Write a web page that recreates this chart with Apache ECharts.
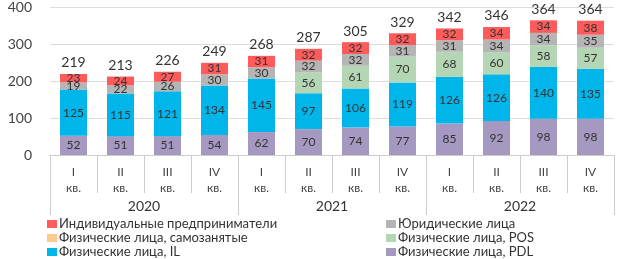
<!DOCTYPE html>
<html>
<head>
<meta charset="utf-8">
<script src="https://cdn.jsdelivr.net/npm/echarts@6/dist/echarts.min.js"></script>
<style>
  html, body { margin: 0; padding: 0; background: #fff; }
  #chart { width: 624px; height: 259px; }
</style>
</head>
<body>
<div id="chart"></div>
<script>
// quarters and years on the x axis
const quarters = ['I\nкв.', 'II\nкв.', 'III\nкв.', 'IV\nкв.', 'I\nкв.', 'II\nкв.', 'III\nкв.', 'IV\nкв.', 'I\nкв.', 'II\nкв.', 'III\nкв.', 'IV\nкв.'];
const years = ['2020', '2021', '2022'];

// stacked segments, bottom to top
const pdl = [52, 51, 51, 54, 62, 70, 74, 77, 85, 92, 98, 98];
const il = [125, 115, 121, 134, 145, 97, 106, 119, 126, 126, 140, 135];
const pos = [0, 0, 0, 0, 0, 56, 61, 70, 68, 60, 58, 57];
const selfEmployed = [0, 0, 0, 0, 0, 0, 0, 0, 0, 0, 0, 0];
const legalEntities = [19, 22, 26, 30, 30, 32, 32, 31, 31, 34, 34, 35];
const entrepreneurs = [23, 24, 27, 31, 31, 32, 32, 32, 32, 34, 34, 38];
const totals = [219, 213, 226, 249, 268, 287, 305, 329, 342, 346, 364, 364];

const names = {
    ip: 'Индивидуальные предприниматели',
    legal: 'Юридические лица',
    self: 'Физические лица, самозанятые',
    pos: 'Физические лица, POS',
    il: 'Физические лица, IL',
    pdl: 'Физические лица, PDL'
};

const font = 'Lato, "Open Sans", sans-serif';

function stackSeries(name, data, color) {
    return {
        name: name,
        type: 'bar',
        stack: 'all',
        barWidth: 27,
        data: data,
        itemStyle: { color: color },
        label: {
            show: true,
            position: 'inside',
            color: '#333',
            fontSize: 12,
            fontFamily: font,
            formatter: p => (p.value > 0 ? p.value : '')
        }
    };
}

function legendColumn(left, data) {
    return {
        orient: 'vertical', left: left, top: 217, height: 60,
        itemGap: 0, itemWidth: 10, itemHeight: 8, icon: 'rect',
        padding: 0,
        textStyle: {
            fontSize: 13, lineHeight: 14, color: '#333',
            fontFamily: font, padding: [0, 0, 0, -3]
        },
        data: data
    };
}

const chart = echarts.init(document.getElementById('chart'));

chart.setOption({
    animation: false,
    grid: { left: 50, right: 10, top: 7, bottom: 104 },
    legend: [
        legendColumn(47, [names.ip, names.self, names.il]),
        legendColumn(386, [names.legal, names.pos, names.pdl])
    ],
    xAxis: [
        {
            type: 'category',
            data: quarters,
            axisLine: { show: true, lineStyle: { color: '#ccc' } },
            axisTick: { show: true, interval: 0, length: 38, lineStyle: { color: '#ccc' } },
            axisLabel: {
                interval: 0, margin: 9, color: '#444', fontSize: 12,
                lineHeight: 16, fontFamily: font
            }
        },
        {
            type: 'category',
            data: years,
            position: 'bottom',
            axisLine: { show: false },
            axisTick: { show: true, interval: 0, length: 60, lineStyle: { color: '#ccc' } },
            axisLabel: { interval: 0, margin: 44, color: '#333', fontSize: 14, fontFamily: font }
        }
    ],
    yAxis: {
        type: 'value',
        min: 0,
        max: 400,
        interval: 100,
        axisLine: { show: false },
        axisTick: { show: false },
        axisLabel: { margin: 18, color: '#444', fontSize: 14, fontFamily: font },
        splitLine: { lineStyle: { color: '#ddd' } }
    },
    series: [
        stackSeries(names.pdl, pdl, '#a699c1'),
        stackSeries(names.il, il, '#00b5ea'),
        stackSeries(names.pos, pos, '#b5d6b4'),
        stackSeries(names.self, selfEmployed, '#fdc98e'),
        stackSeries(names.legal, legalEntities, '#b5b5b5'),
        stackSeries(names.ip, entrepreneurs, '#ff5b5b'),
        {
            name: 'total',
            type: 'bar',
            barWidth: 27,
            barGap: '-100%',
            data: totals,
            itemStyle: { color: 'rgba(0,0,0,0)' },
            z: 1,
            label: {
                show: true, position: 'top', distance: 4,
                color: '#333', fontSize: 14, fontFamily: font
            }
        }
    ]
});
</script>
</body>
</html>
